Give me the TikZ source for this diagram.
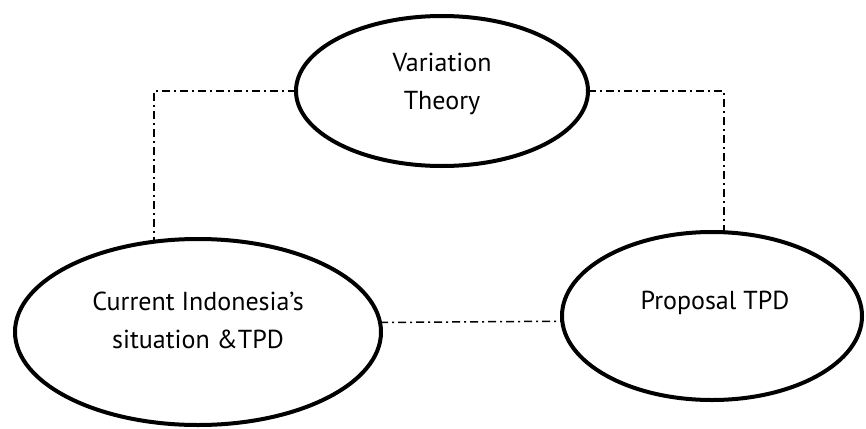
\documentclass[tikz,border=0pt]{standalone}
\usepackage{fontspec}
\setmainfont{PT Sans}
\usetikzlibrary{shapes.geometric}
\begin{document}
\begin{tikzpicture}[x=0.5pt,y=-0.5pt,
  bubble/.style={ellipse,draw=black,line width=2pt,inner sep=0pt,outer sep=0pt},
  lbl/.style={align=center,font=\fontsize{13}{19}\selectfont,inner sep=0pt},
  link/.style={line width=0.75pt,dash pattern=on 4pt off 2pt on 1pt off 2pt}]
\useasboundingbox (0,0) rectangle (866,428);
\node[bubble,minimum width=146pt,minimum height=75pt] (T) at (442,91) {};
\node[bubble,minimum width=183pt,minimum height=93pt] (L) at (198,332) {};
\node[bubble,minimum width=150pt,minimum height=84pt] (R) at (712,316) {};
\node[lbl] (Tt) at (442,84) {Variation\\Theory};
\node[lbl] (Lt) at (198,320) {Current Indonesia’s\\situation \&TPD};
\node[lbl] (Rt) at (715,303) {Proposal TPD};
\draw[link] (T.west) -| (L.116.6);
\draw[link] (T.east) -| (R.82);
\draw[link] (L.3.4) -- (R.182);
\end{tikzpicture}
\end{document}
